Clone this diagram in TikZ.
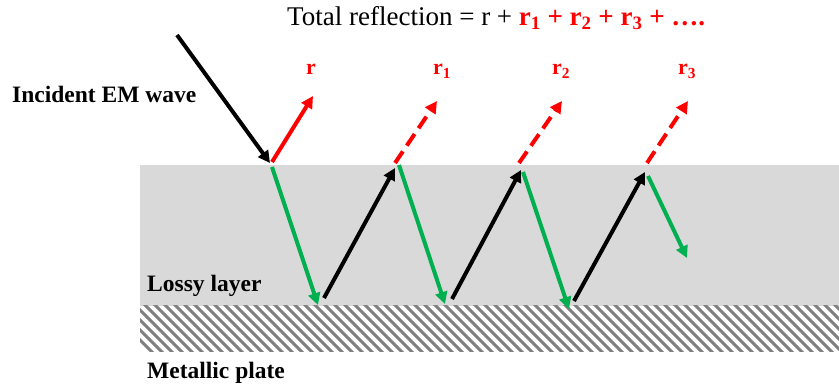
\documentclass[tikz,border=0pt]{standalone}
\usepackage{fontspec}
\setmainfont{Liberation Serif}
\usetikzlibrary{arrows.meta}
\definecolor{layergray}{HTML}{D9D9D9}
\definecolor{hatchgray}{HTML}{808080}
\definecolor{wgreen}{HTML}{00B050}
\definecolor{wred}{HTML}{FF0000}
\tikzset{
  ray/.style={line width=4pt, -{Triangle[length=12pt,width=12pt]}},
  blackray/.style={ray, black},
  greenray/.style={ray, wgreen},
  redray/.style={ray, wred},
  reddash/.style={ray, wred, dash pattern=on 14pt off 7pt},
  lbl/.style={inner sep=0pt, anchor=base west, font=\fontsize{23.5}{26}\selectfont\bfseries},
  rlbl/.style={lbl, font=\fontsize{22}{24}\selectfont\bfseries, text=wred},
}
\begin{document}
\begin{tikzpicture}[x=1pt,y=-1pt]
\useasboundingbox (0,0) rectangle (839,387);
% lossy layer
\fill[layergray] (140,165) rectangle (839,306);
% metallic plate hatch
\begin{scope}
\clip (140,306) rectangle (839,352);
\foreach \i in {0,...,75} {
  \draw[hatchgray, line width=3pt] ({100+10*\i},300) -- ({160+10*\i},360);
}
\end{scope}
% title
\node[inner sep=0pt, anchor=base west, font=\fontsize{27}{30}\selectfont] (title) at (287,26)
  {Total reflection = r + \textcolor{wred}{\bfseries r$_{\mathbf 1}$ + r$_{\mathbf 2}$ + r$_{\mathbf 3}$ + ….}};
% labels
\node[lbl] (inc) at (12,103) {Incident EM wave};
\node[lbl] (lossy) at (147,292) {Lossy layer};
\node[lbl] (metal) at (147,379) {Metallic plate};
\node[rlbl] (r0) at (306,75) {r};
\node[rlbl] (r1) at (433,75) {r$_{\mathbf 1}$};
\node[rlbl] (r2) at (552,75) {r$_{\mathbf 2}$};
\node[rlbl] (r3) at (678,75) {r$_{\mathbf 3}$};
% coordinates
\coordinate (i0) at (177,35);
\coordinate (i1) at (270,163);
\coordinate (a0) at (272,162);
\coordinate (a1) at (313,96);
\coordinate (g1s) at (272,167);
\coordinate (g1e) at (318,305);
\coordinate (b1s) at (324,298);
\coordinate (b1e) at (395,168);
\coordinate (d1s) at (395,163);
\coordinate (d1e) at (437,101);
\coordinate (g2s) at (399,165);
\coordinate (g2e) at (445,304);
\coordinate (b2s) at (452,299);
\coordinate (b2e) at (521,170);
\coordinate (d2s) at (519,163);
\coordinate (d2e) at (562,101);
\coordinate (g3s) at (523,172);
\coordinate (g3e) at (569,309);
\coordinate (b3s) at (574,301);
\coordinate (b3e) at (645,172);
\coordinate (d3s) at (647,163);
\coordinate (d3e) at (688,101);
\coordinate (g4s) at (648,176);
\coordinate (g4e) at (687,258);
% rays
\draw[blackray] (i0) -- (i1);
\draw[redray] (a0) -- (a1);
\draw[greenray] (g1s) -- (g1e);
\draw[blackray] (b1s) -- (b1e);
\draw[reddash] (d1s) -- (d1e);
\draw[greenray] (g2s) -- (g2e);
\draw[blackray] (b2s) -- (b2e);
\draw[reddash] (d2s) -- (d2e);
\draw[greenray] (g3s) -- (g3e);
\draw[blackray] (b3s) -- (b3e);
\draw[reddash] (d3s) -- (d3e);
\draw[greenray] (g4s) -- (g4e);
\end{tikzpicture}
\end{document}
